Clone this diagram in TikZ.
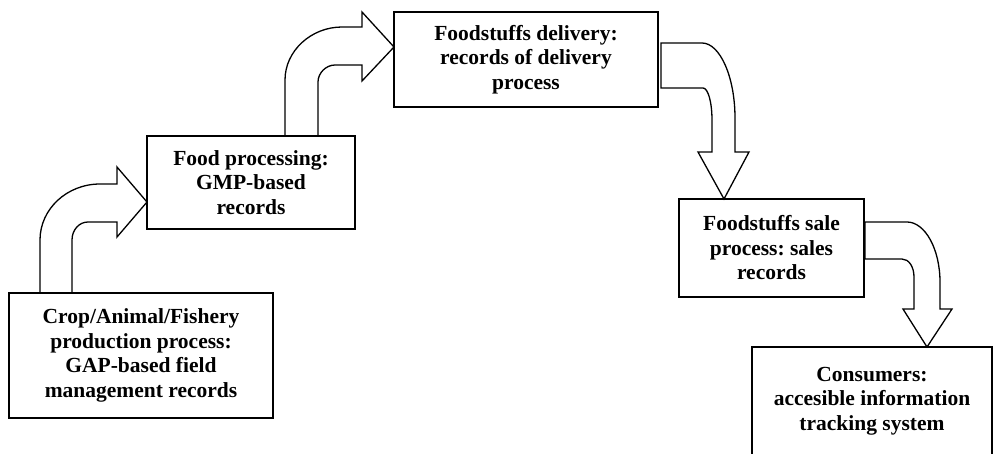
\documentclass[tikz,border=0pt]{standalone}
\usepackage{fontspec}
\setmainfont{Liberation Serif}
\begin{document}
\begin{tikzpicture}[x=1pt,y=-1pt]
		\tikzstyle{stage}=[rectangle,draw,line width=2pt,outer sep=0pt,inner sep=0pt,align=center,font=\fontsize{21.5}{24.5}\selectfont\bfseries\frenchspacing]
		\tikzstyle{flow arrow}=[draw,line width=1.3pt,line join=miter]
		
		\useasboundingbox (0,0) rectangle (994,453);
		
		% Draw the stages of the chain
		\node[stage,minimum width=264pt,minimum height=125pt] (crop) at (141,355.5) {Crop/Animal/Fishery\\production process:\\GAP-based field\\management records};
		\node[stage,minimum width=208pt,minimum height=93pt] (food) at (251,182.5) {Food processing:\\GMP-based\\records};
		\node[stage,minimum width=264pt,minimum height=95pt] (delivery) at (526,59.5) {Foodstuffs delivery:\\records of delivery\\process};
		\node[stage,minimum width=185pt,minimum height=98pt] (sale) at (771.5,248) {Foodstuffs sale\\process: sales\\records};
		\node[stage,minimum width=240pt,minimum height=108pt] (consumer) at (872,401) {Consumers:\\accesible information\\tracking system};
		
		% Draw the block arrows going up
		\draw[flow arrow] (40,0 |- crop.north) -- (40,240) .. controls (40,209) and (67,184) .. (100,184)
			-- (117,184) -- (117,167) -- (food.west |- 0,202) -- (117,237) -- (117,222)
			-- (88,222) .. controls (79,222) and (72,230) .. (72,240) -- (72,0 |- crop.north) -- cycle;
		\draw[flow arrow] (285,0 |- food.north) -- (285,80) .. controls (285,51) and (311,27) .. (342,27)
			-- (362,27) -- (362,12) -- (delivery.west |- 0,47) -- (362,81) -- (362,65)
			-- (335,65) .. controls (326,65) and (318,73) .. (318,82) -- (318,0 |- food.north) -- cycle;
		
		% Draw the block arrows going down
		\draw[flow arrow] (delivery.east |- 0,43) ++(3,0) -- (702,43) .. controls (720,43) and (735,77) .. (735,118)
			-- (735,152) -- (749,152) -- (724,0 |- sale.north) -- (698,152) -- (712,152)
			-- (712,120) .. controls (712,102) and (708,88) .. (703,88) -- (661,88) -- cycle;
		\draw[flow arrow] (sale.east |- 0,222) ++(1,0) -- (907,222) .. controls (925,222) and (940,249) .. (940,282)
			-- (940,309) -- (952,309) -- (927,0 |- consumer.north) -- (903,309) -- (914,309)
			-- (914,277) .. controls (914,267) and (909,259) .. (902,259) -- (865,259) -- cycle;
	\end{tikzpicture}
\end{document}
